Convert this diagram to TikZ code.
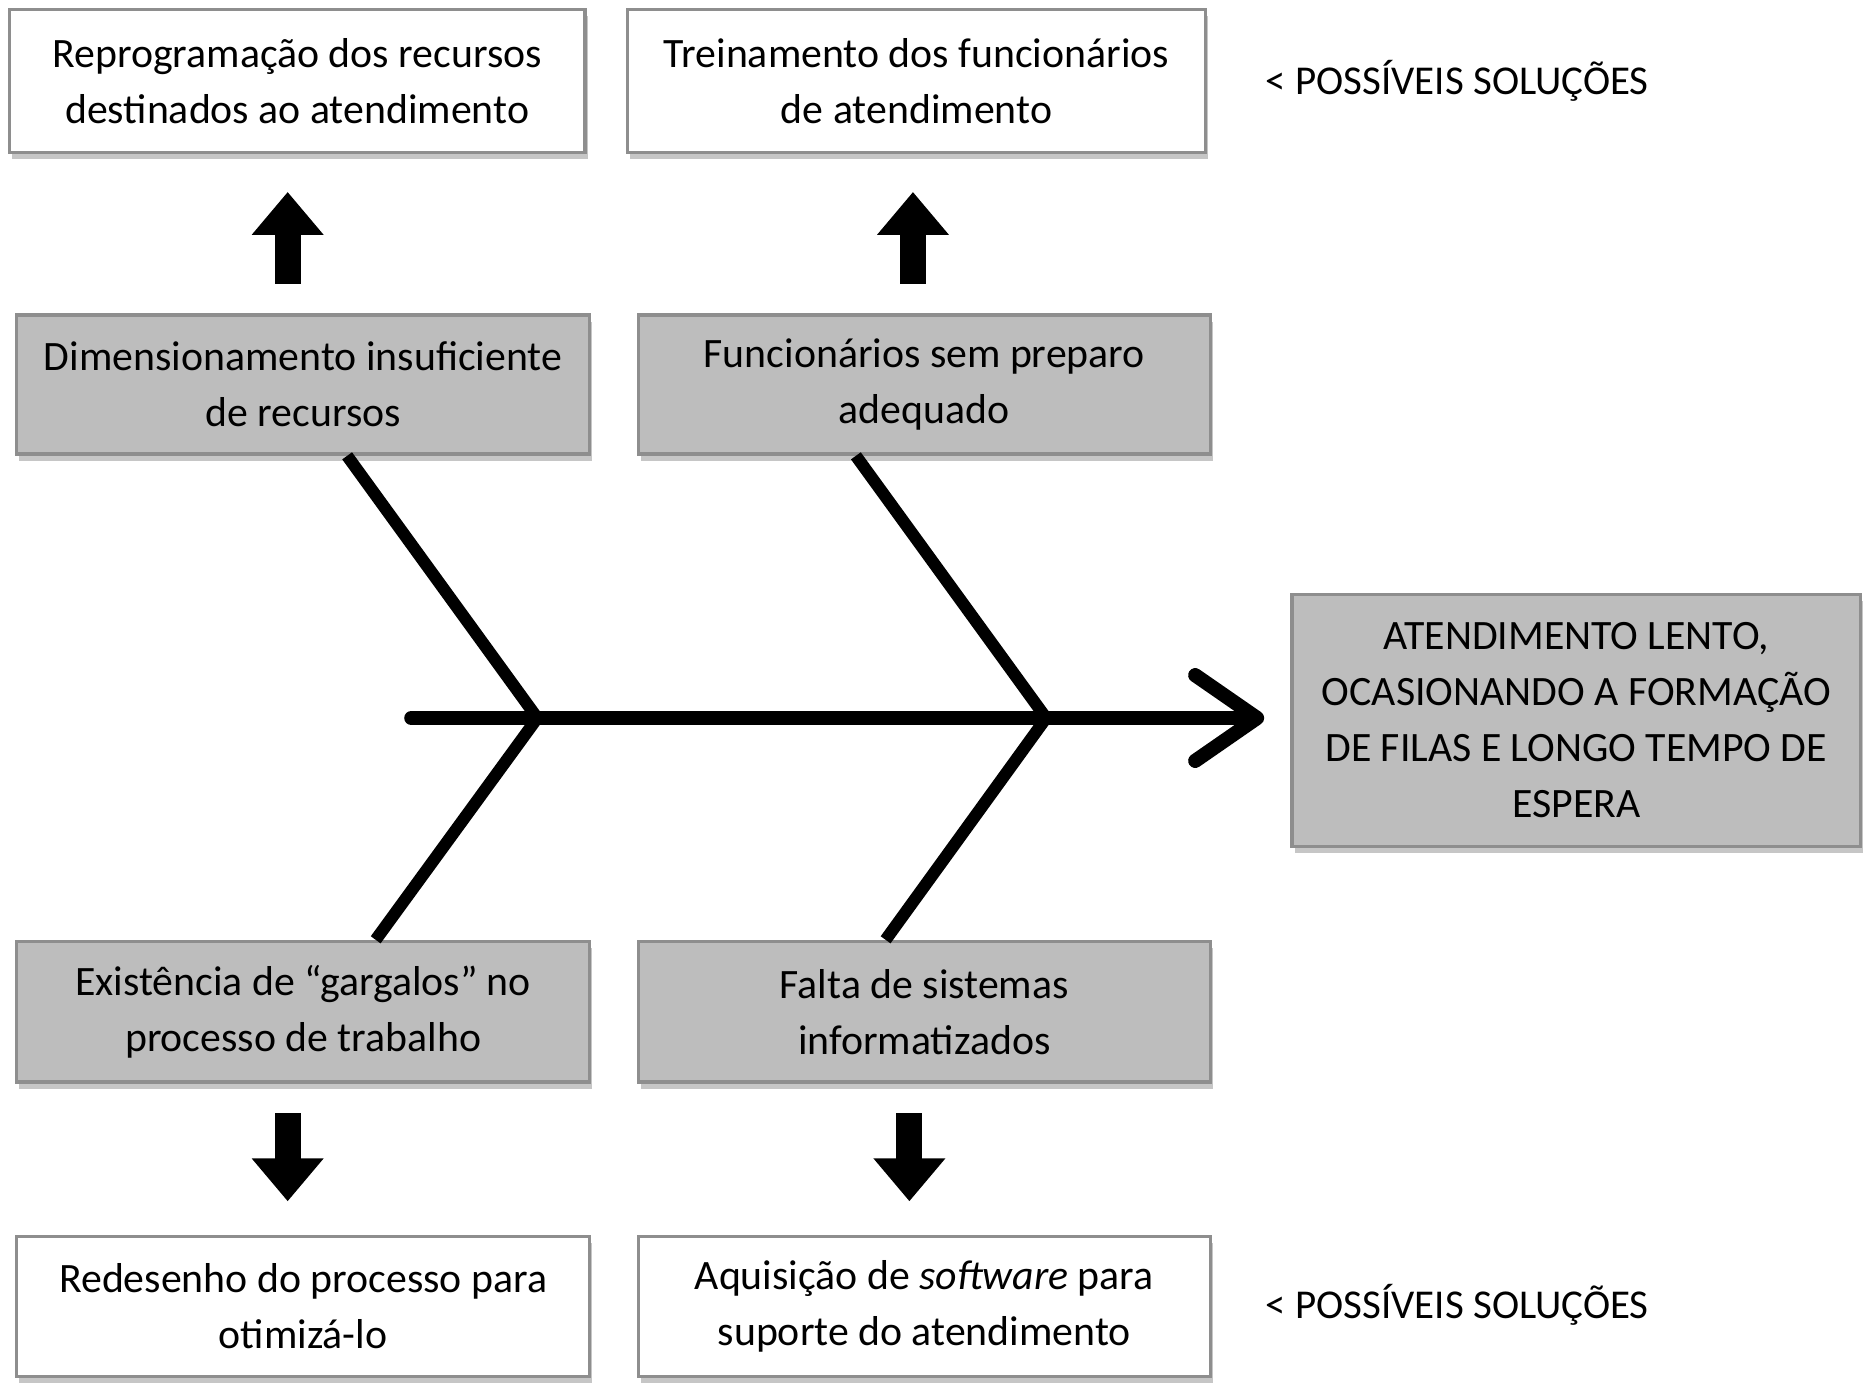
\documentclass[tikz,border=0pt]{standalone}
\usepackage{fontspec}
\setmainfont{Carlito}
\usetikzlibrary{arrows.meta,shadows,calc}
\definecolor{boxgray}{HTML}{BDBDBD}
\definecolor{edgegray}{HTML}{8E8E8E}
\tikzset{
  basebox/.style={draw=edgegray, line width=0.8pt, align=center, inner sep=0pt,
    font=\fontsize{10}{13.4}\selectfont,
    drop shadow={shadow xshift=0.6pt, shadow yshift=-1.6pt, fill=gray, opacity=0.45}},
  solbox/.style={basebox, fill=white},
  causebox/.style={basebox, fill=boxgray},
  bone/.style={line width=2.9pt, black},
  spine/.style={line width=3.4pt, black, line cap=round,
    -{Straight Barb[length=0.52cm, width=0.72cm, round]}},
  blockarrow/.style={line width=6.2pt, black,
    -{Triangle[length=0.36cm, width=0.58cm]}},
  solnote/.style={anchor=west, inner sep=0pt, font=\fontsize{9.8}{12}\selectfont}
}
\begin{document}
\begin{tikzpicture}[x=0.01cm, y=-0.01cm]
\useasboundingbox (0,0) rectangle (1568,1163);

% solution boxes (top)
\node[solbox, minimum width=4.84cm, minimum height=1.20cm] (TL) at (250,68)
  {Reprogramação dos recursos\\destinados ao atendimento};
\node[solbox, minimum width=4.86cm, minimum height=1.20cm] (TM) at (771,68)
  {Treinamento dos funcionários\\de atendimento};
\node[solnote] (N1) at (1064,68) {< POSSÍVEIS SOLUÇÕES};

% cause boxes
\node[causebox, minimum width=4.82cm, minimum height=1.17cm] (ML) at (255,323.5)
  {Dimensionamento insuficiente\\de recursos};
\node[causebox, minimum width=4.81cm, minimum height=1.17cm] (MM) at (777.5,323.5)
  {Funcionários sem preparo\\adequado};
\node[causebox, minimum width=4.82cm, minimum height=1.18cm] (BL) at (255,851)
  {Existência de “gargalos” no\\processo de trabalho};
\node[causebox, minimum width=4.81cm, minimum height=1.18cm] (BM) at (777.5,851)
  {Falta de sistemas\\informatizados};

% effect
\node[causebox, minimum width=4.78cm, minimum height=2.12cm] (HEAD) at (1326,606)
  {ATENDIMENTO LENTO,\\OCASIONANDO A FORMAÇÃO\\DE FILAS E LONGO TEMPO DE\\ESPERA};

% solution boxes (bottom)
\node[solbox, minimum width=4.82cm, minimum height=1.18cm] (WBL) at (255,1099)
  {Redesenho do processo para\\otimizá-lo};
\node[solbox, minimum width=4.81cm, minimum height=1.18cm] (WBM) at (777.5,1099)
  {Aquisição de \textit{software} para\\suporte do atendimento};
\node[solnote] (N2) at (1064,1098) {< POSSÍVEIS SOLUÇÕES};

% spine
\coordinate (S0) at (346,604);
\coordinate (J1) at (452,604);
\coordinate (J2) at (880,604);
\draw[spine, shorten >=0.22cm] (S0) -- (S0 -| HEAD.west);

% bones
\draw[bone] ([xshift=0.37cm]ML.south) -- (J1);
\draw[bone] (J1) -- ([xshift=0.61cm]BL.north);
\draw[bone] ([xshift=-0.575cm]MM.south) -- (J2);
\draw[bone] (J2) -- ([xshift=-0.325cm]BM.north);

% block arrows to solutions
\draw[blockarrow, shorten <=0.25cm, shorten >=0.32cm] ([xshift=-0.13cm]ML.north) -- ([xshift=-0.13cm]ML.north |- TL.south);
\draw[blockarrow, shorten <=0.25cm, shorten >=0.32cm] ([xshift=-0.095cm]MM.north) -- ([xshift=-0.095cm]MM.north |- TM.south);
\draw[blockarrow, shorten <=0.25cm, shorten >=0.28cm] ([xshift=-0.13cm]BL.south) -- ([xshift=-0.13cm]WBL.north);
\draw[blockarrow, shorten <=0.25cm, shorten >=0.28cm] ([xshift=-0.125cm]BM.south) -- ([xshift=-0.125cm]WBM.north);
\end{tikzpicture}
\end{document}
